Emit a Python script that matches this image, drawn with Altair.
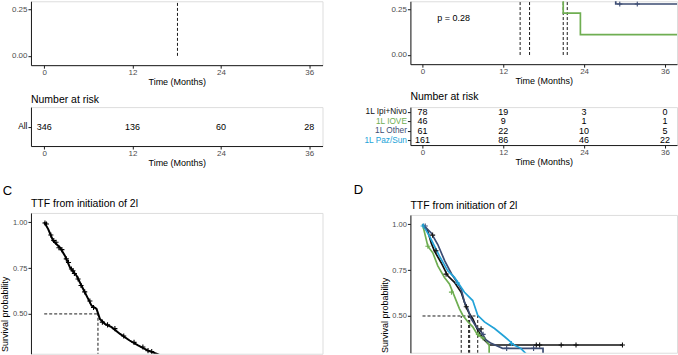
import altair as alt
import pandas as pd

FONT = "Liberation Sans"
INK = "#1a1a1a"
TICK_LBL = "#4d4d4d"
C_IPI, C_IOVE, C_OTHER, C_PAZ = "#111111", "#6fae52", "#3c4c73", "#23a3d8"

MONTH_TICKS = [0, 12, 24, 36]
X_DOMAIN = [-1.8, 37.8]
TOP_Y_DOMAIN = [-0.05, 0.293]
TOP_Y_TICKS = [0.0, 0.25]

# ---------------- Panel A (top-left, bottom part visible)
a_medians = [18.1]
risk_all_groups = ["All"]
risk_all = [346, 136, 60, 28]

# ---------------- Panel B (top-right, bottom part visible)
b_medians = [14.5, 15.9, 20.9, 21.5]
b_iove_t = [19.0, 20.9, 23.45, 40.0]
b_iove_s = [0.40, 0.228, 0.111, 0.111]
b_other_t = [27.0, 28.7, 40.0]
b_other_s = [0.36, 0.278, 0.278]
b_other_cens_t = [29.3, 31.9]
b_other_cens_s = [0.278, 0.278]
b_pvalue = ["p = 0.28"]

groups = ["1L Ipi+Nivo", "1L IOVE", "1L Other", "1L Paz/Sun"]
group_colors = [C_IPI, C_IOVE, C_OTHER, C_PAZ]
risk_ipi = [78, 19, 3, 0]
risk_iove = [46, 9, 1, 1]
risk_other = [61, 22, 10, 5]
risk_paz = [161, 86, 46, 22]

# ---------------- Panel C (TTF, overall)
c_t = [0, 0.54, 1.22, 2.13, 2.81, 3.49, 4.4, 5.29, 5.97, 6.43, 7.11, 7.56, 8.24, 9.15, 10.3, 11.6, 12.75, 14.1, 15.25, 16.0]
c_s = [1.0, 0.962, 0.898, 0.862, 0.817, 0.754, 0.708, 0.636, 0.582, 0.545, 0.527, 0.473, 0.446, 0.428, 0.391, 0.355, 0.328, 0.30, 0.283, 0.27]
c_cens_t = [0.1, 0.3, 0.9, 1.3, 1.6, 2.0, 2.4, 3.0, 3.3, 3.7, 3.9, 4.1, 4.6, 5.0, 5.5, 6.2, 6.7, 7.9, 8.6, 9.6, 10.8, 12.2, 13.4, 14.1, 14.6]
c_cens_s = [0.995, 0.99, 0.93, 0.90, 0.89, 0.86, 0.85, 0.80, 0.78, 0.745, 0.735, 0.72, 0.69, 0.655, 0.62, 0.57, 0.535, 0.455, 0.44, 0.42, 0.38, 0.345, 0.32, 0.30, 0.295]
c_median = [7.3]

# ---------------- Panel D (TTF by 1L group)
d_ipi_t = [0, 0.79, 1.29, 1.78, 2.77, 3.75, 4.75, 5.74, 6.48, 6.97, 7.46, 8.2, 8.96, 9.94, 29.7]
d_ipi_s = [1.0, 0.961, 0.898, 0.853, 0.79, 0.719, 0.683, 0.629, 0.548, 0.512, 0.485, 0.423, 0.378, 0.342, 0.342]
d_iove_t = [0, 0.79, 1.53, 2.27, 3.26, 4.0, 4.5, 5.0, 5.49, 5.98, 6.7, 7.46, 8.2, 9.2, 9.9, 9.9]
d_iove_s = [1.0, 0.88, 0.844, 0.773, 0.71, 0.674, 0.629, 0.584, 0.539, 0.504, 0.47, 0.441, 0.396, 0.378, 0.342, 0.28]
d_other_t = [0, 1.29, 2.27, 3.3, 4.3, 5.2, 5.74, 6.23, 6.72, 7.22, 7.97, 8.71, 9.45, 10.2, 11.9, 17.9, 17.9]
d_other_s = [1.0, 0.952, 0.889, 0.80, 0.73, 0.68, 0.647, 0.575, 0.539, 0.485, 0.441, 0.414, 0.369, 0.351, 0.324, 0.324, 0.28]
d_paz_t = [0, 1.04, 2.52, 3.75, 4.75, 6.23, 7.46, 8.2, 9.2, 10.7, 12.2, 13.6, 14.6, 15.5]
d_paz_s = [1.0, 0.934, 0.826, 0.746, 0.71, 0.629, 0.584, 0.504, 0.468, 0.432, 0.387, 0.342, 0.324, 0.29]
d_ipi_cens_t = [1.5, 2.0, 3.5, 6.5, 8.7, 16.9, 17.4, 20.6, 22.8, 29.7]
d_ipi_cens_s = [0.94, 0.855, 0.728, 0.55, 0.43, 0.342, 0.342, 0.342, 0.342, 0.342]
d_iove_cens_t = [0.8, 4.3, 8.3, 9.0]
d_iove_cens_s = [0.88, 0.63, 0.40, 0.38]
d_other_cens_t = [0.4, 9.0, 12.5, 16.5]
d_other_cens_s = [0.99, 0.40, 0.324, 0.324]
d_paz_cens_t = [0.1, 5.2, 13.2]
d_paz_cens_s = [0.99, 0.68, 0.35]
d_medians = [5.75, 6.85, 7.0, 8.2]

# ---------------- annotation anchors (data units of each panel)
C_LETTER = {"t": -5.0, "s": 1.178, "lh": 8.4}
C_TITLE = {"t": -1.8, "s": 1.101}
D_LETTER = {"t": -9.5, "s": 1.21, "lh": 11.4}
D_TITLE = {"t": -1.8, "s": 1.101}

CROSS = "M-1,0L1,0M0,-1L0,1"
SP = "Survival probability"


def x_enc(show_axis=True, field="t"):
    axis = None
    if show_axis:
        axis = alt.Axis(values=MONTH_TICKS, title="Time (Months)", grid=False,
                        domainColor=INK, tickColor=INK, labelColor=TICK_LBL,
                        labelFontSize=8, titleFontSize=9, titleFontWeight="normal",
                        titleColor="black", tickSize=3, labelPadding=0, titlePadding=1,
                        labelFlush=False)
    return alt.X(f"{field}:Q", scale=alt.Scale(domain=X_DOMAIN, nice=False, zero=False), axis=axis)


def y_enc(domain, ticks, title=None, title_y=None, field="s"):
    kw = dict(values=ticks, format=".2f", grid=False,
              domainColor=INK, tickColor=INK, labelColor=TICK_LBL,
              tickSize=3, labelPadding=1)
    if title is None:
        kw.update(title=None, labelFontSize=8, minExtent=10, maxExtent=40)
    else:
        kw.update(title=title, labelFontSize=7.5, minExtent=20, maxExtent=20,
                  titleFontSize=9, titleFontWeight="normal", titleColor="black",
                  titlePadding=1, titleY=title_y)
    return alt.Y(f"{field}:Q", scale=alt.Scale(domain=domain, nice=False, zero=False),
                 axis=alt.Axis(**kw))


class Panel:
    def __init__(self, x_axis, ydom, yticks, ytitle=None, title_y=None):
        self.x_axis, self.ydom, self.yticks = x_axis, ydom, yticks
        self.ytitle, self.title_y = ytitle, title_y

    def enc(self):
        return dict(x=x_enc(self.x_axis), y=y_enc(self.ydom, self.yticks, self.ytitle, self.title_y))

    def curve(self, t, s, color, interp="step-after", width=1.7):
        df = pd.DataFrame({"t": t, "s": s, "i": list(range(len(t)))})
        return alt.Chart(df).mark_line(interpolate=interp, color=color, strokeWidth=width,
                                       clip=True).encode(order="i:Q", **self.enc())

    def censors(self, t, s, color):
        df = pd.DataFrame({"t": t, "s": s})
        return alt.Chart(df).mark_point(shape=CROSS, size=26, filled=False, stroke=color,
                                        strokeWidth=1.1, opacity=1, clip=True).encode(**self.enc())

    def vrules(self, ts, top):
        df = pd.DataFrame({"t": ts, "s": [0.0] * len(ts), "s2": [top] * len(ts)})
        return alt.Chart(df).mark_rule(color="black", strokeDash=[3, 2], strokeWidth=0.9,
                                       clip=True).encode(y2="s2:Q", **self.enc())

    def hrule(self, t_end, level):
        df = pd.DataFrame({"t": [0.0], "t2": [t_end], "s": [level]})
        return alt.Chart(df).mark_rule(color="black", strokeDash=[3, 2], strokeWidth=0.9,
                                       clip=True).encode(x2="t2:Q", **self.enc())

    def note(self, text, pos, size):
        df = pd.DataFrame({"t": [pos["t"]], "s": [pos["s"]], "label": [text]})
        return alt.Chart(df).mark_text(font=FONT, fontSize=size, color="black", align="left",
                                       baseline="middle").encode(text="label:N", **self.enc())

    def letter(self, text, pos):
        # panel letter; the empty first line reserves the gap above the panel
        df = pd.DataFrame({"t": [pos["t"]], "s": [pos["s"]]})
        return alt.Chart(df).mark_text(font=FONT, fontSize=13, color="black", align="center",
                                       baseline="bottom", lineHeight=pos["lh"],
                                       text=["", text]).encode(**self.enc())


def risk_table(group_names, rows, width, height, colors, offset):
    recs = []
    for g, vals in zip(group_names, rows):
        for t, n in zip(MONTH_TICKS, vals):
            recs.append({"group": g, "t": t, "n": n})
    df = pd.DataFrame(recs)
    cond = [{"test": f"datum.value === '{g}'", "value": c}
            for g, c in zip(group_names, colors) if c != "black"]
    lab_color = {"condition": cond, "value": "black"} if cond else "black"
    return alt.Chart(df, title=alt.Title("Number at risk", anchor="start", frame="group", fontSize=10.5,
                                         fontWeight="normal", font=FONT, color="black",
                                         offset=offset)).mark_text(
        font=FONT, fontSize=9, color="black").encode(
        x=x_enc(True),
        y=alt.Y("group:N", sort=group_names,
                axis=alt.Axis(title=None, labelFontSize=8.3, tickSize=3, labelPadding=1,
                              domainColor=INK, tickColor=INK, labelColor=lab_color, grid=False,
                              minExtent=10, maxExtent=60)),
        text="n:Q",
    ).properties(width=width, height=height)


LW, RW = 292, 267

# ---- A
pa = Panel(True, TOP_Y_DOMAIN, TOP_Y_TICKS)
A_km = alt.layer(pa.vrules(a_medians, 0.5)).properties(width=LW, height=64)
A_risk = risk_table(risk_all_groups, [risk_all], LW, 39, ["black"], 2)

# ---- B
pb = Panel(True, TOP_Y_DOMAIN, TOP_Y_TICKS)
B_km = alt.layer(
    pb.vrules(b_medians, 0.5),
    pb.curve(b_iove_t, b_iove_s, C_IOVE),
    pb.curve(b_other_t, b_other_s, C_OTHER),
    pb.censors(b_other_cens_t, b_other_cens_s, C_OTHER),
    pb.note(b_pvalue[0], {"t": 2.2, "s": 0.2}, 9),
).properties(width=RW, height=63)
B_risk = risk_table(groups, [risk_ipi, risk_iove, risk_other, risk_paz], RW, 38, group_colors, 4)

# ---- C
C_DOM = [0.283, 1.05]
C_TICKS = [0.25, 0.5, 0.75, 1.0]
pc = Panel(False, C_DOM, C_TICKS, SP, 101)
C_km = alt.layer(
    pc.hrule(c_median[0], 0.5),
    pc.vrules(c_median, 0.5),
    pc.curve(c_t, c_s, "black", interp="linear", width=2),
    pc.censors(c_cens_t, c_cens_s, "black"),
    pc.letter("C", C_LETTER),
    pc.note("TTF from initiation of 2l", C_TITLE, 10.5),
).properties(width=LW, height=141)

# ---- D
D_DOM = [0.30, 1.05]
pd_ = Panel(False, D_DOM, C_TICKS, SP, 100)
D_km = alt.layer(
    pd_.hrule(max(d_medians), 0.5),
    pd_.vrules(d_medians, 0.5),
    pd_.curve(d_ipi_t, d_ipi_s, C_IPI, interp="linear"),
    pd_.curve(d_iove_t, d_iove_s, C_IOVE, interp="linear"),
    pd_.curve(d_other_t, d_other_s, C_OTHER, interp="linear"),
    pd_.curve(d_paz_t, d_paz_s, C_PAZ, interp="linear"),
    pd_.censors(d_ipi_cens_t, d_ipi_cens_s, C_IPI),
    pd_.censors(d_iove_cens_t, d_iove_cens_s, C_IOVE),
    pd_.censors(d_other_cens_t, d_other_cens_s, C_OTHER),
    pd_.censors(d_paz_cens_t, d_paz_cens_s, C_PAZ),
    pd_.letter("D", D_LETTER),
    pd_.note("TTF from initiation of 2l", D_TITLE, 10.5),
).properties(width=RW, height=138)

left = alt.vconcat(A_km, A_risk, C_km, spacing=7)
right = alt.vconcat(B_km, B_risk, D_km, spacing=5)

chart = alt.hconcat(left, right, spacing=29).properties(
    padding={"left": 0, "top": 0, "right": 0, "bottom": 0}
).configure_view(stroke=None).configure_axis(
    domainWidth=1, tickWidth=1, labelFont=FONT, titleFont=FONT
).configure(font=FONT, background="white")

chart.save("out.html", embed_options={"renderer": "svg", "actions": False})
